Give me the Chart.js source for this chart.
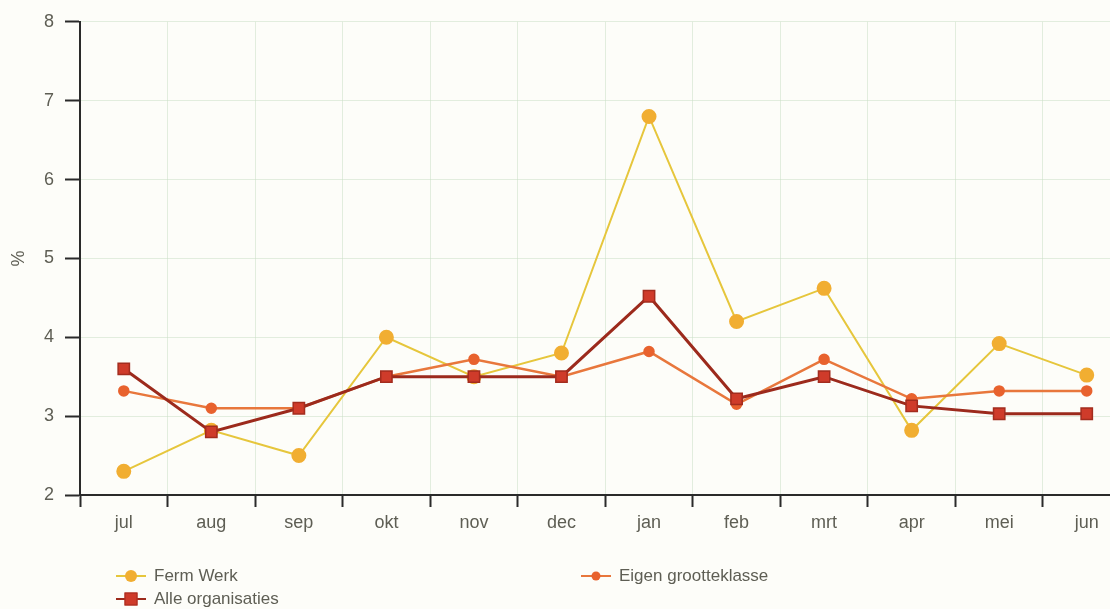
<!DOCTYPE html>
<html>
<head>
<meta charset="utf-8">
<script src="https://cdn.jsdelivr.net/npm/chart.js@4.4.1/dist/chart.umd.min.js"></script>
<style>
  html, body { margin: 0; padding: 0; background: #fdfdf9; overflow: hidden; }
  #wrap { position: relative; width: 1140px; height: 609px; }
  #legend { position: absolute; left: 0; top: 0; font-family: "Liberation Sans", Arial, sans-serif; font-size: 17px; color: #5e5e54; }
  .item { position: absolute; white-space: nowrap; display: flex; align-items: center; }
  .key { position: relative; width: 30px; height: 14px; margin-right: 8px; }
  .key .ln { position: absolute; left: 0; right: 0; top: 6px; height: 2px; }
  .key .mk { position: absolute; left: 50%; top: 50%; transform: translate(-50%, -50%); }
</style>
</head>
<body>
<div id="wrap">
  <canvas id="chart" width="1140" height="609"></canvas>
  <div id="legend"></div>
</div>
<script>
// maanden
const months = ['jul', 'aug', 'sep', 'okt', 'nov', 'dec', 'jan', 'feb', 'mrt', 'apr', 'mei', 'jun'];
const fermWerk = [2.3, 2.82, 2.5, 4.0, 3.5, 3.8, 6.8, 4.2, 4.62, 2.82, 3.92, 3.52];
const eigenGrootteklasse = [3.32, 3.1, 3.1, 3.5, 3.72, 3.5, 3.82, 3.15, 3.72, 3.22, 3.32, 3.32];
const alleOrganisaties = [3.6, 2.8, 3.1, 3.5, 3.5, 3.5, 4.52, 3.22, 3.5, 3.13, 3.03, 3.03];
const yTicks = [2, 3, 4, 5, 6, 7, 8];

const GRID = 'rgba(200,222,196,0.5)';
const AXIS = '#2a2a2a';
const TEXT = '#5e5e54';

new Chart(document.getElementById('chart'), {
  type: 'line',
  data: {
    labels: months,
    datasets: [
      {
        label: 'Alle organisaties', data: alleOrganisaties,
        borderColor: '#9c2a1c', borderWidth: 3,
        pointStyle: 'rect', pointRadius: 8, pointBackgroundColor: '#cf3b2a', pointBorderColor: '#a32c1e', pointBorderWidth: 1.5,
        tension: 0
      },
      {
        label: 'Eigen grootteklasse', data: eigenGrootteklasse,
        borderColor: '#e8773c', borderWidth: 2.5,
        pointStyle: 'circle', pointRadius: 4.5, pointBackgroundColor: '#e8622e', pointBorderColor: '#e8622e',
        tension: 0
      },
      {
        label: 'Ferm Werk', data: fermWerk,
        borderColor: '#e6c63c', borderWidth: 2,
        pointStyle: 'circle', pointRadius: 6.5, pointBackgroundColor: '#f1ae32', pointBorderColor: '#f1ae32',
        tension: 0
      }
    ]
  },
  options: {
    responsive: false,
    animation: false,
    layout: { padding: { top: 15, right: 0, bottom: 0, left: 0 } },
    plugins: { legend: { display: false }, tooltip: { enabled: false } },
    scales: {
      x: {
        offset: true,
        grid: { offset: true, color: GRID, tickColor: AXIS, tickLength: 12, tickWidth: 2 },
        border: { color: AXIS, width: 2 },
        ticks: { color: TEXT, font: { family: 'Liberation Sans', size: 18 }, padding: 5 },
        afterFit: (s) => { s.height = 114; }
      },
      y: {
        min: 2, max: 8,
        afterBuildTicks: (s) => { s.ticks = yTicks.map(v => ({ value: v })); },
        grid: { color: GRID, tickColor: AXIS, tickLength: 15, tickWidth: 2 },
        border: { color: AXIS, width: 2 },
        ticks: { color: TEXT, font: { family: 'Liberation Sans', size: 18 }, padding: 11 },
        title: { display: true, text: '%', color: TEXT, font: { family: 'Liberation Sans', size: 18 }, padding: { top: 8, bottom: 0 } },
        afterFit: (s) => { s.width = 80; }
      }
    }
  }
});

// legenda in twee kolommen
const legendItems = [
  { text: 'Ferm Werk', x: 116, y: 566, line: '#e6c63c', mk: 'width:12px;height:12px;border-radius:50%;background:#f1ae32' },
  { text: 'Alle organisaties', x: 116, y: 589, line: '#9c2a1c', mk: 'width:13px;height:13px;background:#cf3b2a;border:1px solid #a32c1e;box-sizing:border-box' },
  { text: 'Eigen grootteklasse', x: 581, y: 566, line: '#e8773c', mk: 'width:9px;height:9px;border-radius:50%;background:#e8622e' }
];
const legend = document.getElementById('legend');
legendItems.forEach(it => {
  const el = document.createElement('div');
  el.className = 'item';
  el.style.left = it.x + 'px';
  el.style.top = it.y + 'px';
  el.innerHTML = '<span class="key"><span class="ln" style="background:' + it.line + '"></span><span class="mk" style="' + it.mk + '"></span></span>' + it.text;
  legend.appendChild(el);
});
</script>
</body>
</html>
